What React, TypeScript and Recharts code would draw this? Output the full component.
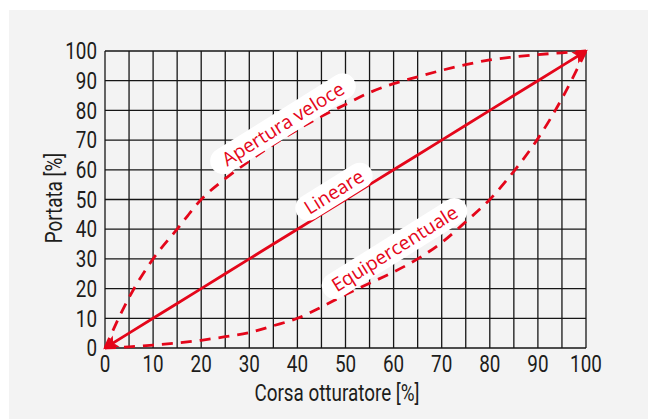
import { LineChart, Line, XAxis, YAxis, CartesianGrid, ReferenceDot } from "recharts";

// Corsa otturatore [%]
const corsa = [0, 5, 10, 15, 20, 25, 30, 35, 40, 45, 50, 55, 60, 65, 70, 75, 80, 85, 90, 95, 100];
// Portata [%] per le tre caratteristiche
const aperturaVeloce = [0, 17, 30, 40, 50, 57, 63, 68.5, 73.5, 78, 82, 86, 89, 91.3, 93.5, 95.4, 97, 98, 98.8, 99.4, 100];
const lineare = [0, 5, 10, 15, 20, 25, 30, 35, 40, 45, 50, 55, 60, 65, 70, 75, 80, 85, 90, 95, 100];
const equipercentuale = [0, 0.4, 1, 1.7, 2.6, 3.8, 5.2, 7.5, 10, 13.8, 18, 21.8, 25.6, 30, 35.5, 42.5, 50, 59.5, 70.5, 84, 100];

const xTicks = [0, 5, 10, 15, 20, 25, 30, 35, 40, 45, 50, 55, 60, 65, 70, 75, 80, 85, 90, 95, 100];
const yTicks = [0, 10, 20, 30, 40, 50, 60, 70, 80, 90, 100];

const labelTexts = ["Apertura veloce", "Lineare", "Equipercentuale"];
const labelX = [37, 47.6, 60.2];
const labelY = [75.5, 52.6, 33.5];

const data = corsa.map((c, i) => ({
  corsa: c,
  veloce: aperturaVeloce[i],
  lineare: lineare[i],
  equi: equipercentuale[i],
}));

const RED = "#e4061a";
const INK = "#1d1d1b";
const AXIS_FONT = "Roboto, 'Noto Sans', sans-serif";

function XTick({ x, y, payload }: any) {
  if (payload.value % 10 !== 0) return null;
  return (
    <text
      transform={`translate(${x},${y}) scale(0.82,1)`}
      textAnchor="middle"
      dy="0.7em"
      fontFamily={AXIS_FONT}
      fontSize={23}
      fill={INK}
    >
      {payload.value}
    </text>
  );
}

function YTick({ x, y, payload }: any) {
  return (
    <text
      transform={`translate(${x},${y}) scale(0.82,1)`}
      textAnchor="end"
      dy="0.36em"
      fontFamily={AXIS_FONT}
      fontSize={23}
      fill={INK}
    >
      {payload.value}
    </text>
  );
}

// punta di freccia agli estremi della retta lineare
function ArrowDot(props: any) {
  const { cx, cy, index, points } = props;
  if (cx == null || cy == null) return null;
  const last = (points?.length ?? data.length) - 1;
  if (index !== 0 && index !== last) return null;
  let ang = index === 0 ? Math.PI - 0.553 : -0.553;
  if (points && points.length > 1) {
    const other = index === 0 ? points[1] : points[last - 1];
    ang = Math.atan2(cy - other.y, cx - other.x);
  }
  const deg = (ang * 180) / Math.PI;
  return (
    <path
      key={`arrow-${index}`}
      d="M 1 0 L -12 -5.5 L -9 0 L -12 5.5 Z"
      transform={`translate(${cx},${cy}) rotate(${deg})`}
      fill={RED}
      stroke={RED}
      strokeWidth={1}
    />
  );
}

function makeLabel(text: string) {
  return (props: any) => {
    const { cx, cy } = props;
    const fs = 19;
    const w = text.length * fs * 0.53 + 16;
    const h = 26;
    return (
      <g transform={`translate(${cx},${cy}) rotate(-32)`}>
        <rect x={-w / 2} y={-h / 2} width={w} height={h} rx={13} ry={13} fill="#ffffff" />
        <text
          textAnchor="middle"
          dy="0.36em"
          fontFamily="'Open Sans', 'Noto Sans', sans-serif"
          fontSize={fs}
          fill={RED}
        >
          {text}
        </text>
      </g>
    );
  };
}

export default function App() {
  return (
    <div style={{ position: "absolute", left: 0, top: 0, width: 648, height: 419, background: "#ffffff", overflow: "hidden" }}>
      <div style={{ position: "absolute", left: 9, top: 10, right: 0, bottom: 0, background: "#f3f3f3" }} />
      <div style={{ position: "absolute", left: 0, top: 0 }}>
        <LineChart width={648} height={419} data={data} margin={{ top: 51, right: 62, bottom: 21, left: 45 }}>
          <CartesianGrid stroke="#161616" strokeWidth={1.3} />
          <XAxis
            dataKey="corsa"
            type="number"
            domain={[0, 100]}
            ticks={xTicks}
            interval={0}
            height={50}
            axisLine={false}
            tickLine={false}
            tick={<XTick />}
          />
          <YAxis
            type="number"
            domain={[0, 100]}
            ticks={yTicks}
            interval={0}
            width={60}
            axisLine={false}
            tickLine={false}
            tick={<YTick />}
          />
          <Line
            dataKey="veloce"
            type="monotone"
            stroke={RED}
            strokeWidth={2.8}
            strokeDasharray="11 8"
            dot={false}
            isAnimationActive={false}
          />
          <Line
            dataKey="equi"
            type="monotone"
            stroke={RED}
            strokeWidth={2.8}
            strokeDasharray="11 8"
            dot={false}
            isAnimationActive={false}
          />
          <Line
            dataKey="lineare"
            type="linear"
            stroke={RED}
            strokeWidth={2.8}
            dot={<ArrowDot />}
            activeDot={false}
            isAnimationActive={false}
          />
          {labelTexts.map((t, i) => (
            <ReferenceDot
              key={t}
              x={labelX[i]}
              y={labelY[i]}
              r={0}
              ifOverflow="visible"
              shape={makeLabel(t)}
            />
          ))}
        </LineChart>
      </div>
      <svg width={648} height={419} style={{ position: "absolute", left: 0, top: 0, pointerEvents: "none" }}>
        <text
          transform="translate(337,401) scale(0.82,1)"
          textAnchor="middle"
          fontFamily={AXIS_FONT}
          fontSize={23}
          fill={INK}
        >
          Corsa otturatore [%]
        </text>
        <text
          transform="translate(62,198) rotate(-90) scale(0.82,1)"
          textAnchor="middle"
          fontFamily={AXIS_FONT}
          fontSize={23}
          fill={INK}
        >
          Portata [%]
        </text>
      </svg>
    </div>
  );
}
